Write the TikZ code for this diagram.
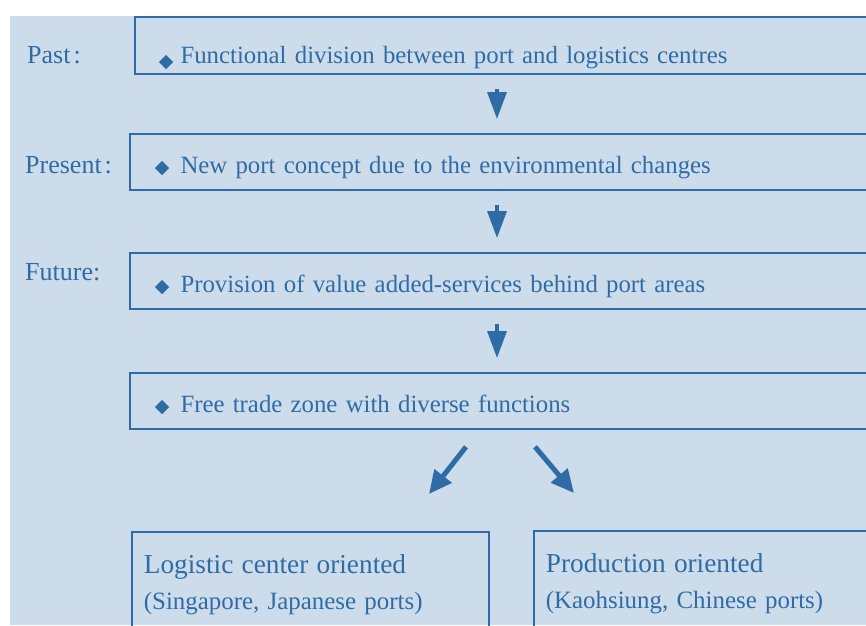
\documentclass[tikz,border=0pt]{standalone}
\usepackage{fontspec}
\setmainfont{Liberation Serif}
\newfontfamily\symfont{DejaVu Sans}
\usepackage{xcolor}
\usetikzlibrary{arrows.meta,calc,positioning}
\definecolor{linec}{RGB}{47,108,165}
\definecolor{backc}{RGB}{205,220,235}
\newcommand{\dia}{{\symfont\fontsize{19}{19}\selectfont ◆}}

\begin{document}
\begin{tikzpicture}[x=1pt,y=-1pt,
  box/.style={draw=linec, line width=1.8pt, text=linec, inner ysep=0pt, align=left,
    font=\fontsize{24.8}{30}\selectfont, text height=40pt, text depth=16pt},
  endbox/.style={box, inner xsep=12pt, text height=42pt, text depth=110pt,
    font=\fontsize{24.9}{36}\selectfont},
  lbl/.style={text=linec, inner sep=0pt, anchor=base west, font=\fontsize{26}{30}\selectfont},
  varr/.style={draw=linec, line width=3.5pt, -{Triangle[length=27pt,width=19pt]},
    shorten <=14pt, shorten >=14pt},
  darr/.style={draw=linec, line width=5pt, -{Triangle[length=23pt,width=21pt]}}]

\useasboundingbox (0,0) rectangle (866,625);
\clip (0,0) rectangle (866,625);
\fill[backc] (10,16) rectangle (866,625);

% stages
\node[lbl] (past) at (27,63) {Past\kern3pt:};
\node[lbl] (present) at (25,173) {Present\kern3pt:};
\node[lbl] (future) at (25,280) {Future:};

\node[box, anchor=north west, text width=760pt, inner xsep=24pt, text height=47pt, text depth=10pt]
  (b1) at (134,16) {\raisebox{-4pt}{\dia}\hspace{7pt}Functional division between port and logistics centres};
\node[box, anchor=north west, text width=760pt, inner xsep=25pt]
  (b2) at (129,133) {\dia\hspace{11pt}New port concept due to the environmental changes};
\node[box, anchor=north west, text width=760pt, inner xsep=25pt]
  (b3) at (129,252) {\dia\hspace{11pt}Provision of value added-services behind port areas};
\node[box, anchor=north west, text width=760pt, inner xsep=25pt]
  (b4) at (129,372) {\dia\hspace{11pt}Free trade zone with diverse functions};

\node[endbox, anchor=north west, text width=333pt] (bl) at (131,531)
  {{\fontsize{27.3}{36}\selectfont Logistic center oriented}\\(Singapore, Japanese ports)};
\node[endbox, anchor=north west, text width=400pt] (br) at (533,530)
  {{\fontsize{27.3}{36}\selectfont Production oriented}\\(Kaohsiung, Chinese ports)};

\coordinate (col) at (497,0);
\begin{scope}
\foreach \a/\b in {b1/b2, b2/b3, b3/b4}{
  \draw[varr] (\a.south -| col) -- (\b.north -| col);
}
%split into the two orientations
\draw[darr] ($(b4.south -| col)+(-31,17)$) -- ($(bl.north -| col)+(-68,-37)$);
\draw[darr] ($(b4.south -| col)+(38,17)$) -- ($(br.north -| col)+(77,-37)$);
\end{scope}
\end{tikzpicture}
\end{document}
